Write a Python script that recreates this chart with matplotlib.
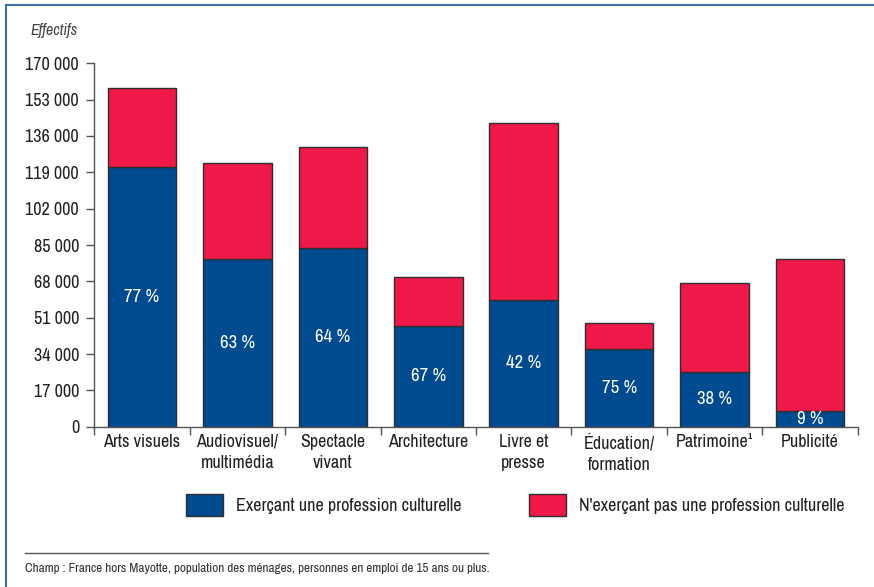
import matplotlib.pyplot as plt
import numpy as np
from matplotlib import font_manager as fm
from matplotlib.lines import Line2D
from matplotlib.patches import Patch
from matplotlib.ticker import FixedLocator, FuncFormatter

# condensed face if there is one
names = sorted({f.name for f in fm.fontManager.ttflist})
narrow = [n for n in names if 'Narrow' in n or 'Condensed' in n]
cond = [f for f in fm.fontManager.ttflist if f.name == 'DejaVu Sans' and f.stretch == 'condensed']
if narrow:
    plt.rcParams['font.family'] = [narrow[0], 'DejaVu Sans']
    fs = 13
elif cond:
    plt.rcParams['font.family'] = ['DejaVu Sans']
    plt.rcParams['font.stretch'] = 'condensed'
    fs = 12.5
else:
    plt.rcParams['font.family'] = ['DejaVu Sans']
    fs = 11

categories = ['Arts visuels', 'Audiovisuel/\nmultimédia', 'Spectacle\nvivant', 'Architecture',
              'Livre et\npresse', 'Éducation/\nformation', 'Patrimoine¹', 'Publicité']
culturel = [121600, 78300, 83600, 47100, 59300, 36500, 25500, 7300]
non_culturel = [36700, 45200, 47250, 22900, 82800, 11900, 41600, 71300]
pct_labels = ['77 %', '63 %', '64 %', '67 %', '42 %', '75 %', '38 %', '9 %']
yticks = [0, 17000, 34000, 51000, 68000, 85000, 102000, 119000, 136000, 153000, 170000]

blue = '#004a8f'
red = '#ee1849'
edge = '#2e2e2e'
txt = '#231f20'

fig = plt.figure(figsize=(8.74, 5.87), dpi=100)
ax = fig.add_axes([94.3 / 874, 1 - 426.7 / 587, (857.7 - 94.3) / 874, (426.7 - 63.3) / 587])

x = np.arange(len(categories))
ax.bar(x, culturel, width=0.72, color=blue, edgecolor=edge, linewidth=1)
ax.bar(x, non_culturel, width=0.72, bottom=culturel, color=red, edgecolor=edge, linewidth=1)

for xi, c, lab in zip(x, culturel, pct_labels):
    ax.text(xi, c / 2, lab, ha='center', va='center', color='white', fontsize=fs + 0.5)

ax.set_xlim(-0.5, len(categories) - 0.5)
ax.set_ylim(0, 170000)
ax.set_yticks(yticks)
ax.yaxis.set_major_formatter(FuncFormatter(lambda v, p: '{:,}'.format(int(v)).replace(',', ' ')))
ax.set_xticks(x)
ax.set_xticklabels(categories, linespacing=1.45)
ax.xaxis.set_minor_locator(FixedLocator(np.arange(len(categories) + 1) - 0.5))

for s in ['top', 'right']:
    ax.spines[s].set_visible(False)
for s in ['left', 'bottom']:
    ax.spines[s].set_color('#555555')
    ax.spines[s].set_linewidth(1)

ax.tick_params(axis='y', direction='out', length=6, width=1, color='#555555',
               labelsize=fs, labelcolor=txt, pad=5)
ax.tick_params(axis='x', which='major', length=0, labelsize=fs, labelcolor=txt, pad=5)
ax.tick_params(axis='x', which='minor', direction='out', length=6, width=1, color='#555555')

fig.text(30 / 874, 1 - 31 / 587, 'Effectifs', style='italic', fontsize=fs - 1.5, color='#444444',
         ha='left', va='center')

handles = [Patch(facecolor=blue, edgecolor=edge, linewidth=1),
           Patch(facecolor=red, edgecolor=edge, linewidth=1)]
fig.legend(handles, ['Exerçant une profession culturelle', "N'exerçant pas une profession culturelle"],
           loc='center', bbox_to_anchor=(515 / 874, 1 - 505 / 587), ncol=2, frameon=False,
           fontsize=fs, handlelength=2.05 * 13 / fs, handleheight=1.45 * 13 / fs,
           handletextpad=0.7, columnspacing=3.75 * 13 / fs, labelcolor=txt)

fig.add_artist(Line2D([25 / 874, 488 / 874], [1 - 552.7 / 587] * 2, color='#555555', lw=1))
fig.text(25 / 874, 1 - 569 / 587,
         'Champ : France hors Mayotte, population des ménages, personnes en emploi de 15 ans ou plus.',
         fontsize=fs * 0.73, color='#333333', ha='left', va='center')

border = '#3a6ea5'
fig.add_artist(Line2D([6 / 874, 1], [1 - 5 / 587] * 2, color=border, lw=1.5))
fig.add_artist(Line2D([6 / 874] * 2, [1 - 5 / 587, 0], color=border, lw=1.5))

fig.savefig('out.png', dpi=100)
